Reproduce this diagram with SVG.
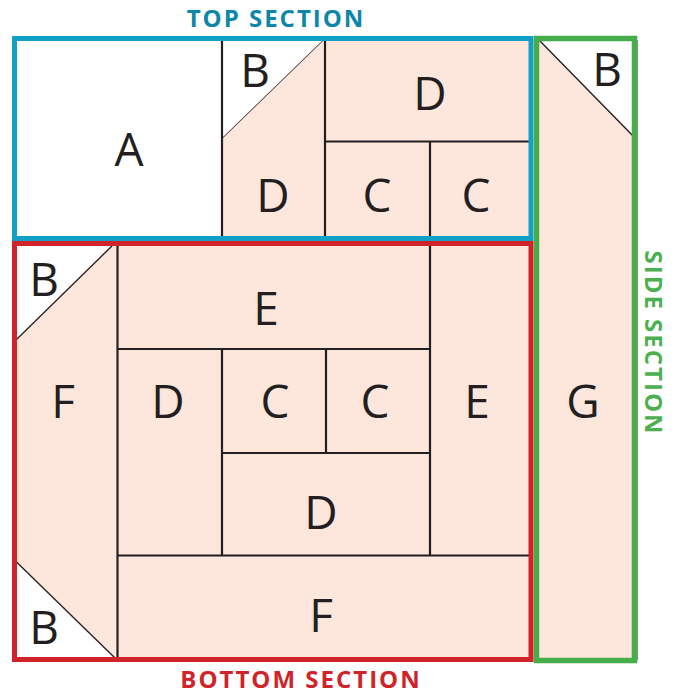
<svg xmlns="http://www.w3.org/2000/svg" width="676" height="694" viewBox="0 0 676 694">
<style>
.pc{fill:#FDE6DC;stroke:none}
.wh{fill:#FFFFFF;stroke:none}
.ln{stroke:#231F20;stroke-width:2.2;fill:none}
.dg{stroke:#231F20;stroke-width:1.3;fill:none}
.lb{font-family:"Open Sans","Liberation Sans",sans-serif;font-size:46px;fill:#231F20;text-anchor:middle}
.hd{font-family:"Open Sans","Liberation Sans",sans-serif;font-size:24px;font-weight:700;text-anchor:middle;letter-spacing:2px}
</style>
<rect width="676" height="694" fill="#FFFFFF"/>

<!-- SIDE SECTION -->
<g id="side-section">
  <rect class="pc" x="536.5" y="38.5" width="98" height="622"/>
  <line x1="637.6" y1="40" x2="637.6" y2="660" stroke="#8a8a8a" stroke-width="1"/>
  <g id="side-B">
    <polygon class="wh" points="539,40 634.5,40 634.5,135"/>
    <line class="dg" x1="539" y1="40" x2="633" y2="136"/>
    <text class="lb" x="607" y="86">B</text>
  </g>
  <g id="side-G"><text class="lb" x="583" y="418">G</text></g>
</g>

<!-- TOP SECTION -->
<g id="top-section">
  <g id="top-A">
    <rect class="wh" x="14.5" y="38.5" width="207.5" height="200"/>
    <text class="lb" x="129" y="165.5">A</text>
  </g>
  <g id="top-B">
    <polygon class="wh" points="222,38.5 324,38.5 222,139"/>
    <line class="dg" x1="222" y1="139" x2="324" y2="40"/>
    <text class="lb" x="255" y="87">B</text>
  </g>
  <g id="top-D1">
    <polygon class="pc" points="222,139 324,40 325,40 325,238.5 222,238.5"/>
    <text class="lb" x="273" y="212">D</text>
  </g>
  <g id="top-D2">
    <rect class="pc" x="325" y="38.5" width="206" height="103"/>
    <text class="lb" x="430" y="110">D</text>
  </g>
  <g id="top-C1">
    <rect class="pc" x="325" y="141.5" width="105" height="97"/>
    <text class="lb" x="377" y="211.5">C</text>
  </g>
  <g id="top-C2">
    <rect class="pc" x="430" y="141.5" width="101" height="97"/>
    <text class="lb" x="476" y="211.5">C</text>
  </g>
  <line class="ln" x1="222" y1="38.5" x2="222" y2="238.5"/>
  <line class="ln" x1="325" y1="38.5" x2="325" y2="238.5"/>
  <line class="ln" x1="325" y1="141.5" x2="531" y2="141.5"/>
  <line class="ln" x1="430" y1="141.5" x2="430" y2="238.5"/>
</g>

<!-- BOTTOM SECTION -->
<g id="bottom-section">
  <rect class="pc" x="14.5" y="243.5" width="516.5" height="416"/>
  <g id="bottom-B1">
    <polygon class="wh" points="14.5,243.5 112,243.5 14.5,341"/>
    <line class="dg" x1="16" y1="340" x2="112" y2="246"/>
    <text class="lb" x="44" y="296">B</text>
  </g>
  <g id="bottom-F1"><text class="lb" x="63" y="418">F</text></g>
  <g id="bottom-B2">
    <polygon class="wh" points="14.5,561 14.5,659.5 115,659.5"/>
    <line class="dg" x1="16" y1="561.5" x2="115" y2="658"/>
    <text class="lb" x="44" y="643.5">B</text>
  </g>
  <g id="bottom-E1"><text class="lb" x="266" y="324.5">E</text></g>
  <g id="bottom-D1"><text class="lb" x="168" y="418">D</text></g>
  <g id="bottom-C1"><text class="lb" x="275" y="418">C</text></g>
  <g id="bottom-C2"><text class="lb" x="375" y="418">C</text></g>
  <g id="bottom-E2"><text class="lb" x="477" y="418">E</text></g>
  <g id="bottom-D2"><text class="lb" x="321" y="528.5">D</text></g>
  <g id="bottom-F2"><text class="lb" x="321" y="632">F</text></g>
  <line class="ln" x1="117.5" y1="243.5" x2="117.5" y2="659.5"/>
  <line class="ln" x1="117.5" y1="349" x2="430" y2="349"/>
  <line class="ln" x1="430" y1="243.5" x2="430" y2="555.5"/>
  <line class="ln" x1="222" y1="349" x2="222" y2="555.5"/>
  <line class="ln" x1="326" y1="349" x2="326" y2="453"/>
  <line class="ln" x1="222" y1="453" x2="430" y2="453"/>
  <line class="ln" x1="117.5" y1="555.5" x2="531" y2="555.5"/>
</g>

<!-- section outlines -->
<g id="outlines">
  <rect x="536.5" y="38.5" width="98" height="622" fill="none" stroke="#45AD4A" stroke-width="5.5"/>
  <rect x="14.5" y="243.5" width="516.5" height="416" fill="none" stroke="#D1232A" stroke-width="5"/>
  <rect x="14.5" y="38.5" width="516.5" height="200" fill="none" stroke="#12A0C6" stroke-width="5"/>
</g>

<!-- headings -->
<g id="headings">
  <text class="hd" x="276" y="26.5" fill="#0C86A9">TOP SECTION</text>
  <text class="hd" x="301" y="687.5" fill="#D1232A">BOTTOM SECTION</text>
  <text class="hd" transform="translate(645,343) rotate(90)" x="0" y="0" fill="#4CAF50">SIDE SECTION</text>
</g>
</svg>
